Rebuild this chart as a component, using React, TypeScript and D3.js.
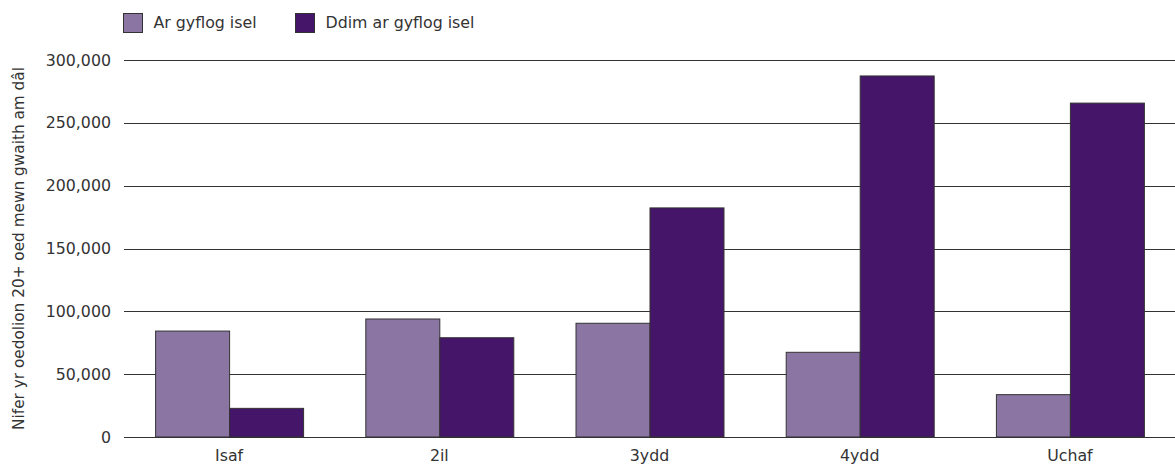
import React, { useEffect, useRef } from "react";
import * as d3 from "d3";

const categories = ["Isaf", "2il", "3ydd", "4ydd", "Uchaf"];
const seriesNames = ["Ar gyflog isel", "Ddim ar gyflog isel"];
const lowPaid = [84300, 93900, 90500, 67400, 33700];
const notLowPaid = [22800, 79000, 182300, 287300, 265700];
const yTicks = [0, 50000, 100000, 150000, 200000, 250000, 300000];
const colors = ["#8a75a3", "#441568"];

const W = 1175;
const H = 465;
const M = { left: 124, right: 0, top: 60, bottom: 28 };
const FONT = "'DejaVu Sans', sans-serif";
const FS = 15.8;

export default function App() {
  const ref = useRef<SVGSVGElement>(null);
  useEffect(() => {
    const svg = d3.select(ref.current);
    svg.selectAll("*").remove();
    const y0 = 437;
    const y = d3.scaleLinear().domain([0, 300000]).range([y0, M.top]);
    const x0 = d3.scaleBand().domain(categories).range([M.left, W - M.right]).paddingInner(0.296).paddingOuter(0.148);
    const x1 = d3.scaleBand().domain(seriesNames).range([0, x0.bandwidth()]);

    // gridlines
    svg.append("g").selectAll("line").data(yTicks).join("line")
      .attr("x1", M.left).attr("x2", W)
      .attr("y1", (d) => Math.round(y(d)) + 0.5).attr("y2", (d) => Math.round(y(d)) + 0.5)
      .attr("stroke", "#333").attr("stroke-width", 1);

    // y tick labels
    svg.append("g").selectAll("text").data(yTicks).join("text")
      .attr("x", 111).attr("y", (d) => y(d))
      .attr("dy", "0.35em").attr("text-anchor", "end")
      .attr("font-family", FONT).attr("font-size", FS).attr("fill", "#333")
      .text((d) => d3.format(",")(d));

    // bars
    const data = categories.map((c, i) => ({ c, vals: [lowPaid[i], notLowPaid[i]] }));
    const g = svg.append("g").selectAll("g").data(data).join("g")
      .attr("transform", (d) => `translate(${x0(d.c)},0)`);
    g.selectAll("rect").data((d) => d.vals.map((v, j) => ({ v, j })))
      .join("rect")
      .attr("x", (d) => (x1(seriesNames[d.j]) as number) + 0.5)
      .attr("width", x1.bandwidth())
      .attr("y", (d) => y(d.v))
      .attr("height", (d) => y0 - y(d.v))
      .attr("fill", (d) => colors[d.j])
      .attr("stroke", "#333").attr("stroke-width", 1);

    // x labels
    svg.append("g").selectAll("text").data(categories).join("text")
      .attr("x", (d) => (x0(d) as number) + x0.bandwidth() / 2)
      .attr("y", 461).attr("text-anchor", "middle")
      .attr("font-family", FONT).attr("font-size", FS).attr("fill", "#333")
      .text((d) => d);

    // y title
    svg.append("text")
      .attr("transform", `translate(24,${(y0 + M.top) / 2}) rotate(-90)`)
      .attr("text-anchor", "middle")
      .attr("font-family", FONT).attr("font-size", 15.3).attr("fill", "#333")
      .text("Nifer yr oedolion 20+ oed mewn gwaith am dâl");

    // legend
    const legX = [123.5, 295.5];
    seriesNames.forEach((s, i) => {
      svg.append("rect").attr("x", legX[i]).attr("y", 13.5).attr("width", 19).attr("height", 19)
        .attr("fill", colors[i]).attr("stroke", "#333").attr("stroke-width", 1);
      svg.append("text").attr("x", legX[i] + 30).attr("y", 28)
        .attr("font-family", FONT).attr("font-size", FS).attr("fill", "#333").text(s);
    });
  }, []);
  return (
    <svg ref={ref} width={W} height={H} style={{ position: "absolute", left: 0, top: 0, background: "#fff" }} />
  );
}
